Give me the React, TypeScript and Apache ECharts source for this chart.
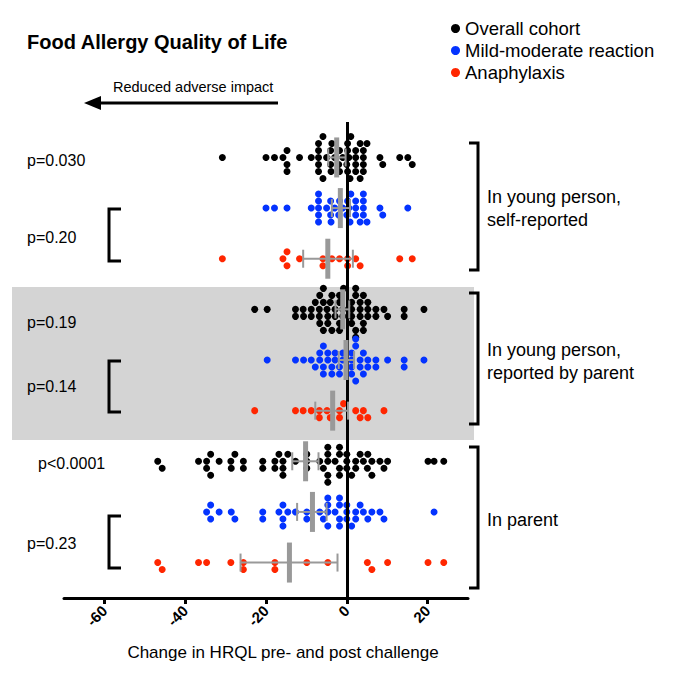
import React, { useEffect, useRef } from "react";
import * as echarts from "echarts";

// ---------- data ----------
const groups = ["In young person, self-reported", "In young person, reported by parent", "In parent"];
const pValuesOverall = ["p=0.030", "p=0.19", "p<0.0001"];
const pValuesReaction = ["p=0.20", "p=0.14", "p=0.23"];
const xTicks = [-60, -40, -20, 0, 20];

// Mild-moderate reaction (blue), one array per group
const mildSelf = [-20.0, -17.9, -14.8, -8.8, -7.0, -7.0, -7.0, -7.0, -7.0, -5.0, -4.0, -4.0, -3.9, -3.0, -2.0, -1.8, -1.0, 0.0, 0.2, 0.5, 0.8, 1.0, 2.2, 2.2, 2.2, 3.3, 4.1, 4.1, 4.1, 4.1, 5.0, 8.2, 8.9, 15.1];
const mildProxy = [-19.7, -12.7, -10.7, -8.8, -7.8, -6.7, -6.7, -5.8, -5.8, -5.8, -4.7, -4.7, -3.7, -3.7, -2.9, -2.9, -1.8, -1.8, -1.0, -1.0, 1.2, 1.2, 1.2, 1.2, 2.2, 2.2, 2.2, 3.3, 3.3, 4.1, 4.1, 5.2, 5.2, 7.2, 7.2, 10.1, 14.2, 14.2, 19.1];
const mildParent = [-34.7, -33.7, -33.7, -31.6, -28.6, -27.7, -20.8, -20.8, -16.8, -15.8, -15.8, -15.8, -14.6, -12.7, -9.9, -9.9, -6.7, -5.8, -4.7, -4.7, -4.7, -4.7, -2.9, -1.8, -1.8, -1.8, -1.8, 0.0, 0.0, 0.0, 1.2, 2.2, 2.2, 3.3, 4.1, 5.2, 6.2, 8.2, 9.2, 21.6];

// Anaphylaxis (red)
const anaSelf = [-30.8, -15.8, -14.8, -14.8, -11.7, -5.9, -5.9, -3.7, -1.8, 0.2, 0.2, 2.2, 3.3, 13.1, 16.2];
const anaProxy = [-22.8, -12.7, -10.8, -8.8, -6.8, -6.8, -4.9, -4.1, -1.8, -1.8, -0.8, 2.2, 3.3, 4.1, 5.2, 9.2];
const anaParent = [-46.8, -45.7, -36.7, -34.7, -28.7, -25.6, -25.6, -17.8, -17.8, -9.9, -4.7, 5.1, 6.2, 10.1, 20.1, 24.0];

// Overall cohort (black) = mild-moderate + anaphylaxis
const overallSelf = [...mildSelf, ...anaSelf];
const overallProxy = [...mildProxy, ...anaProxy];
const overallParent = [...mildParent, ...anaParent];

// mean and 95% CI per row, top to bottom (overall, mild, anaphylaxis) x 3 groups
const rowMeans = [-2.5, -1.6, -4.7, -1.0, -0.2, -3.5, -10.2, -8.5, -14.2];
const rowCiLow = [-4.6, -3.7, -10.8, -2.8, -2.0, -7.8, -13.5, -12.3, -26.3];
const rowCiHigh = [-0.3, 0.8, 1.5, 0.6, 1.8, 0.3, -7.0, -5.0, -2.3];

// ---------- layout constants ----------
const W = 677, H = 681;
const GRID = { left: 64, right: 209, top: 122, bottom: 83 };
const X_MIN = -70, X_MAX = 30, Y_MIN = 0.3, Y_MAX = 9.7;
const PX_X = (W - GRID.left - GRID.right) / (X_MAX - X_MIN);
const PX_Y = (H - GRID.top - GRID.bottom) / (Y_MAX - Y_MIN);
const DOT = 7;
const FONT = "'Liberation Sans', Arial, Helvetica, sans-serif";

function swarm(values: number[], rowY: number): number[][] {
  const sorted = [...values].sort((a, b) => a - b);
  const placed: { x: number; o: number }[] = [];
  const out: number[][] = [];
  const order = [0, 1, -1, 2, -2, 3, -3, 4, -4, 5, -5, 6, -6];
  const minD = DOT * 0.85;
  for (const v of sorted) {
    let chosen = 0;
    for (const lvl of order) {
      const ok = placed.every((p) => {
        const dx = (v - p.x) * PX_X;
        const dy = (lvl - p.o) * DOT;
        return dx * dx + dy * dy >= minD * minD;
      });
      if (ok) { chosen = lvl; break; }
    }
    placed.push({ x: v, o: chosen });
    out.push([v, rowY - (chosen * DOT) / PX_Y]);
  }
  return out;
}

// row y values: top row = 9
const rowY = (i: number) => 9 - i;

export default function App() {
  const ref = useRef<HTMLDivElement>(null);
  useEffect(() => {
    if (!ref.current) return;
    const chart = echarts.init(ref.current, null, { renderer: "svg" });

    const blackData = [
      ...swarm(overallSelf, rowY(0)),
      ...swarm(overallProxy, rowY(3)),
      ...swarm(overallParent, rowY(6)),
    ];
    const blueData = [
      ...swarm(mildSelf, rowY(1)),
      ...swarm(mildProxy, rowY(4)),
      ...swarm(mildParent, rowY(7)),
    ];
    const redData = [
      ...swarm(anaSelf, rowY(2)),
      ...swarm(anaProxy, rowY(5)),
      ...swarm(anaParent, rowY(8)),
    ];
    const summary = rowMeans.map((m, i) => [rowY(i), m, rowCiLow[i], rowCiHigh[i]]);

    const txt = (text: string, x: number, y: number, size = 16, weight: any = "normal", align = "left") => ({
      type: "text",
      x,
      y,
      style: { text, fill: "#000", font: `${weight} ${size}px ${FONT}`, textAlign: align, textVerticalAlign: "middle" },
    });
    const ln = (x1: number, y1: number, x2: number, y2: number) => ({
      type: "line",
      shape: { x1, y1, x2, y2 },
      style: { stroke: "#000", lineWidth: 3 },
    });
    const leftBracket = (y1: number, y2: number) => ({
      type: "polyline",
      shape: { points: [[121, y1], [109, y1], [109, y2], [121, y2]] },
      style: { stroke: "#000", lineWidth: 3, fill: null },
    });
    const rightBracket = (y1: number, y2: number) => ({
      type: "polyline",
      shape: { points: [[469, y1], [478, y1], [478, y2], [469, y2]] },
      style: { stroke: "#000", lineWidth: 3, fill: null },
    });

    const option: any = {
      animation: false,
      backgroundColor: "#fff",
      textStyle: { fontFamily: FONT },
      grid: { left: GRID.left, right: GRID.right, top: GRID.top, bottom: GRID.bottom, containLabel: false },
      legend: {
        orient: "vertical",
        left: 446,
        top: 14,
        itemWidth: 9,
        itemHeight: 9,
        itemGap: 3,
        icon: "circle",
        textStyle: { fontSize: 18.5, color: "#000", fontFamily: FONT },
        data: ["Overall cohort", "Mild-moderate reaction", "Anaphylaxis"],
      },
      xAxis: {
        type: "value",
        min: X_MIN,
        max: X_MAX,
        splitLine: { show: false },
        axisLine: { show: true, onZero: false, lineStyle: { color: "#000", width: 3 } },
        axisTick: { show: true, length: 6, lineStyle: { color: "#000", width: 3 }, customValues: xTicks },
        axisLabel: {
          customValues: xTicks,
          rotate: 45,
          margin: 10,
          fontSize: 15,
          fontWeight: "bold",
          color: "#000",
          fontFamily: FONT,
        },
      },
      yAxis: {
        type: "value",
        min: Y_MIN,
        max: Y_MAX,
        show: false,
      },
      graphic: [
        { type: "rect", z: -1, shape: { x: 12, y: 287, width: 462, height: 153 }, style: { fill: "#d4d4d4" } },
        txt("Food Allergy Quality of Life", 27, 42, 20, "bold"),
        txt("Reduced adverse impact", 113, 87, 14.5),
        ln(98, 103, 278, 103),
        { type: "polygon", shape: { points: [[84, 103], [101, 96], [101, 110]] }, style: { fill: "#000" } },
        txt(pValuesOverall[0], 27, 160),
        txt(pValuesReaction[0], 27, 237),
        txt(pValuesOverall[1], 27, 322),
        txt(pValuesReaction[1], 27, 386),
        txt(pValuesOverall[2], 38, 463),
        txt(pValuesReaction[2], 27, 543),
        leftBracket(209, 261),
        leftBracket(361, 412),
        leftBracket(516, 568),
        rightBracket(143, 270),
        rightBracket(293, 424),
        rightBracket(447, 588),
        txt("In young person,", 487, 197, 18),
        txt("self-reported", 487, 220, 18),
        txt("In young person,", 487, 350, 18),
        txt("reported by parent", 487, 373, 18),
        txt(groups[2], 487, 520, 18),
        txt("Change in HRQL pre- and post challenge", 283, 652, 17, "normal", "center"),
      ],
      series: [
        {
          name: "Overall cohort",
          type: "scatter",
          symbolSize: DOT,
          itemStyle: { color: "#000", opacity: 1 },
          data: blackData,
          z: 3,
          markLine: {
            silent: true,
            symbol: "none",
            label: { show: false },
            lineStyle: { color: "#000", width: 3, type: "solid" },
            data: [{ xAxis: 0 }],
          },
        },
        { name: "Mild-moderate reaction", type: "scatter", symbolSize: DOT, itemStyle: { color: "#0433ff", opacity: 1 }, data: blueData, z: 3 },
        { name: "Anaphylaxis", type: "scatter", symbolSize: DOT, itemStyle: { color: "#ff2600", opacity: 1 }, data: redData, z: 3 },
        {
          type: "custom",
          z: 5,
          encode: { x: [1, 2, 3], y: 0 },
          data: summary,
          renderItem: (params: any, api: any) => {
            const y = api.value(0);
            const pm = api.coord([api.value(1), y]);
            const pl = api.coord([api.value(2), y]);
            const ph = api.coord([api.value(3), y]);
            const st = { stroke: "#999", lineWidth: 2 };
            return {
              type: "group",
              children: [
                { type: "line", shape: { x1: pl[0], y1: pl[1], x2: ph[0], y2: ph[1] }, style: st },
                { type: "line", shape: { x1: pl[0], y1: pl[1] - 9, x2: pl[0], y2: pl[1] + 9 }, style: st },
                { type: "line", shape: { x1: ph[0], y1: ph[1] - 9, x2: ph[0], y2: ph[1] + 9 }, style: st },
                { type: "rect", shape: { x: pm[0] - 2.5, y: pm[1] - 20, width: 5, height: 40 }, style: { fill: "#999" } },
              ],
            };
          },
        },
      ],
    };
    chart.setOption(option);
    return () => chart.dispose();
  }, []);
  return <div ref={ref} style={{ width: W, height: H, position: "absolute", left: 0, top: 0 }} />;
}
